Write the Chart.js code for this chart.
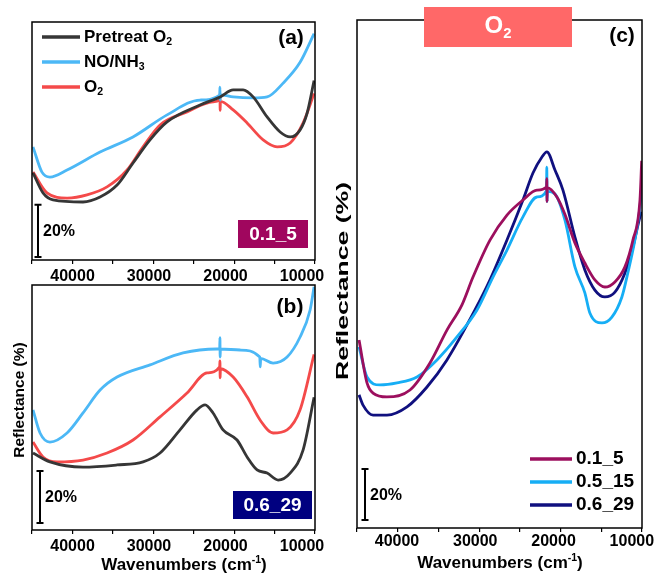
<!DOCTYPE html>
<html><head><meta charset="utf-8">
<script src="https://cdn.jsdelivr.net/npm/chart.js@4/dist/chart.umd.min.js"></script>
<style>
html,body{margin:0;padding:0;background:#fff;}
#wrap{position:relative;width:654px;height:579px;overflow:hidden;background:#fff;}
canvas{position:absolute;}
</style></head><body>
<div id="wrap">
<canvas id="ca" width="330" height="292" style="left:0;top:0;width:330px;height:292px"></canvas>
<canvas id="cb" width="330" height="299" style="left:0;top:280px;width:330px;height:299px"></canvas>
<canvas id="cc" width="324" height="579" style="left:330px;top:0;width:324px;height:579px"></canvas>
</div>
<script>
// ---- data: [wavenumber (cm-1), reflectance (%, offset scale)] ----
const xTicksMajor = [40000, 30000, 20000, 10000];

// Panel (a) 0.1_5
const a_pretreatO2 = [[45170,33.5],[43860,25.8],[42550,23.1],[38630,22.3],[36400,24.2],[34180,28.8],[32090,37.3],[29870,46.2],[27640,53.1],[23330,59.6],[20700,62.7],[19000,65.4],[17700,65.4],[16390,62.7],[14560,55],[12860,49.2],[11550,47.3],[10250,50],[9330,56.5],[8420,69]];
const a_NO_NH3 = [[45170,43.5],[44000,33.8],[42950,31.9],[40720,34.6],[36400,41.5],[32100,47.3],[27640,55.8],[23330,61.5],[20760,63.4],[20730,66.5],[20700,61.5],[20670,63.5],[19000,62.7],[16400,62.3],[14560,62.7],[12470,68],[10250,76],[8420,87]];
const a_O2 = [[45170,33.8],[43340,25.8],[40720,23.8],[38110,25],[35490,28.1],[32870,34.6],[30780,43.5],[28560,51.9],[25030,56.9],[21630,60.8],[20760,61.5],[20730,64],[20700,57.5],[20670,61],[19000,57.7],[17180,52.7],[15080,46.2],[13250,43.5],[11550,45],[9850,52.7],[8420,64]];

// Panel (b) 0.6_29
const b_pretreatO2 = [[45170,29.6],[42950,26.2],[38630,24.2],[34180,25],[30780,26.2],[28560,29.6],[25950,38.5],[23720,46.2],[22670,48.1],[21630,45],[20320,38.5],[18490,34.6],[17180,28.1],[15870,23.1],[14560,21.9],[13120,19.2],[11550,21.9],[9850,30.8],[8420,51]];
const b_NO_NH3 = [[45170,46.2],[44250,37.3],[42950,33.8],[40720,37.3],[38630,45],[36400,53.8],[34180,58.8],[29870,63.5],[25550,68.1],[21100,69.6],[20760,69.6],[20730,74],[20700,66.5],[20670,69.6],[18090,69.2],[15520,66.5],[15460,62.7],[15400,66],[13780,64.2],[11950,66.5],[10250,74.2],[8940,84.6],[8420,93.5]];
const b_O2 = [[45170,33.8],[43860,28.1],[42030,26.2],[38630,26.9],[35490,29.6],[32090,34.6],[28560,43.5],[25030,52.7],[22410,60.4],[20760,62.7],[20730,65],[20700,58.5],[20670,62],[19000,58.8],[17180,51.2],[15480,42.3],[13780,37.3],[11950,38.5],[10250,46.2],[8420,67.5]];

// Panel (c) O2 treated samples
const c_01_5 = [[44850,73.7],[43830,56.9],[43060,52.9],[41280,51.4],[38340,54.1],[35790,64.7],[33620,77.6],[31700,87.5],[30290,98.4],[28120,112.9],[25950,122.7],[23910,128.6],[22120,132.5],[20900,133.7],[20860,137],[20830,128],[20800,133.5],[19570,129.8],[18550,123],[17270,111.8],[16000,103.9],[14720,97.3],[13440,94.5],[12160,96.5],[10880,102.4],[9860,112.9],[8960,128.6],[8740,144]];
const c_05_15 = [[44850,71],[43830,59.2],[42170,56.1],[40000,56.9],[37450,59.2],[34890,65.9],[32340,74.9],[29780,85.5],[27740,98.4],[25950,109],[23910,122],[22120,129.8],[20900,132.3],[20860,141.5],[20830,128],[20800,132],[19820,131],[18550,120.8],[17270,102.4],[16000,92.2],[15360,84.3],[13820,80.4],[12550,82.7],[11270,90.6],[10510,100],[9610,112.9],[8960,125.9],[8740,133]];
const c_06_29 = [[44850,52.2],[44340,48.2],[43060,44.3],[41280,44.3],[38720,47.5],[36170,55.3],[33620,65.9],[30040,85.5],[28120,97.3],[25950,112.9],[23910,128.6],[22630,139.2],[21480,145.5],[20850,147.5],[19820,140.4],[18800,132.5],[17270,114.1],[16000,101.2],[14720,93.3],[13440,90.6],[12160,92.5],[10880,100],[9860,110.2],[8960,122],[8740,124]];

const labelsAB = ['Pretreat O2', 'NO/NH3', 'O2'];
const labelsC = ['0.1_5', '0.5_15', '0.6_29'];
const scaleBarSize = 20;

// ---- styling ----
const FONT = '"Liberation Sans", Arial, Helvetica, sans-serif';
const f = (s) => 'bold ' + s + 'px ' + FONT;
const colAB = ['#363636', '#4cb8f6', '#f44a4a'];
const colC = ['#9c0f5e', '#16aef5', '#10107f'];

const toPts = arr => arr.map(p => ({x: p[0], y: p[1]}));

function rich(ctx, parts, x, y, size, color, align) {
  ctx.fillStyle = color; ctx.textBaseline = 'middle'; ctx.textAlign = 'left';
  let w = 0;
  parts.forEach(p => { ctx.font = f(p[1] ? size * 0.62 : size); w += ctx.measureText(p[0]).width; });
  let cx = align === 'center' ? x - w / 2 : x;
  parts.forEach(p => {
    const s = p[1] ? size * 0.62 : size;
    ctx.font = f(s);
    const dy = p[1] === 'sub' ? size * 0.32 : (p[1] === 'sup' ? -size * 0.3 : 0);
    ctx.fillText(p[0], cx, y + dy);
    cx += ctx.measureText(p[0]).width;
  });
}

function frame(ctx, ca) {
  ctx.save(); ctx.strokeStyle = '#000'; ctx.lineWidth = 1.5;
  ctx.strokeRect(ca.left, ca.top, ca.right - ca.left, ca.bottom - ca.top);
  ctx.restore();
}

function tickLabels(chart, dy) {
  const ctx = chart.ctx, xs = chart.scales.x;
  ctx.save(); ctx.font = f(16); ctx.fillStyle = '#000'; ctx.textAlign = 'center'; ctx.textBaseline = 'middle';
  xTicksMajor.forEach(v => ctx.fillText(String(v), xs.getPixelForValue(v), chart.chartArea.bottom + dy));
  ctx.restore();
}

function scaleBar(chart, dx, from) {
  const ctx = chart.ctx, ys = chart.scales.y;
  const x = chart.chartArea.left + dx;
  const y0 = ys.getPixelForValue(from), y1 = ys.getPixelForValue(from + scaleBarSize);
  ctx.save(); ctx.strokeStyle = '#000'; ctx.lineWidth = 2;
  ctx.beginPath();
  ctx.moveTo(x, y0); ctx.lineTo(x, y1);
  ctx.moveTo(x - 3.5, y0); ctx.lineTo(x + 3.5, y0);
  ctx.moveTo(x - 3.5, y1); ctx.lineTo(x + 3.5, y1);
  ctx.stroke();
  rich(ctx, [['20%']], x + 5, (y0 + y1) / 2 + 1, 16, '#000', 'left');
  ctx.restore();
}

function legendRow(ctx, x1, x2, y, color, parts, size) {
  ctx.save(); ctx.strokeStyle = color; ctx.lineWidth = 3.5; ctx.lineCap = 'butt';
  ctx.beginPath(); ctx.moveTo(x1, y); ctx.lineTo(x2, y); ctx.stroke();
  rich(ctx, parts, x2 + 4, y, size, '#000', 'left');
  ctx.restore();
}

function badge(ctx, x1, y1, x2, y2, color, text) {
  ctx.save(); ctx.fillStyle = color; ctx.fillRect(x1, y1, x2 - x1, y2 - y1);
  ctx.fillStyle = '#fff'; ctx.font = f(19); ctx.textAlign = 'center'; ctx.textBaseline = 'middle';
  ctx.fillText(text, (x1 + x2) / 2, (y1 + y2) / 2 + 1);
  ctx.restore();
}

function xTitle(ctx, cx, cy) {
  rich(ctx, [['Wavenumbers (cm'], ['-1', 'sup'], [')']], cx, cy, 17, '#000', 'center');
}

function yTitle(ctx, cx, cy, size, len) {
  ctx.save(); ctx.translate(cx, cy); ctx.rotate(-Math.PI / 2);
  ctx.font = f(size);
  const w = ctx.measureText('Reflectance (%)').width;
  if (len) ctx.scale(len / w, 1);
  ctx.fillStyle = '#000'; ctx.textAlign = 'center'; ctx.textBaseline = 'middle';
  ctx.fillText('Reflectance (%)', 0, 0);
  ctx.restore();
}

function makeChart(id, cfg) {
  const datasets = cfg.series.map((s, i) => ({
    label: s.label, data: toPts(s.data), borderColor: s.color, backgroundColor: s.color,
    borderWidth: 2.8, pointRadius: 0, fill: false, cubicInterpolationMode: 'monotone'
  }));
  return new Chart(document.getElementById(id), {
    type: 'line',
    data: { datasets },
    options: {
      responsive: false, animation: false, devicePixelRatio: 1,
      layout: { padding: cfg.pad },
      plugins: { legend: { display: false }, tooltip: { enabled: false } },
      scales: {
        x: {
          type: 'linear', reverse: true, min: cfg.xmin, max: cfg.xmax,
          border: { display: false },
          grid: { drawOnChartArea: false, drawTicks: true, tickLength: 4, color: '#000', lineWidth: 1.2 },
          ticks: { display: false, stepSize: 5000, includeBounds: false, autoSkip: false, maxRotation: 0, minRotation: 0 },
          afterFit: s => { s.height = cfg.axisH; }
        },
        y: { display: false, min: 0, max: cfg.ymax }
      }
    },
    plugins: [{ id: 'extras', afterDraw: chart => { frame(chart.ctx, chart.chartArea); tickLabels(chart, cfg.tickDy); cfg.extras(chart); } }]
  });
}

// Panel (a)
makeChart('ca', {
  pad: { left: 32, top: 22, right: 15, bottom: 2 }, axisH: 30, tickDy: 17,
  xmin: 8300, xmax: 45300, ymax: 91.5,
  series: [
    { label: labelsAB[0], data: a_pretreatO2, color: colAB[0] },
    { label: labelsAB[1], data: a_NO_NH3, color: colAB[1] },
    { label: labelsAB[2], data: a_O2, color: colAB[2] }
  ],
  extras: chart => {
    const ctx = chart.ctx;
    legendRow(ctx, 42, 80, 37, colAB[0], [['Pretreat O'], ['2', 'sub']], 17);
    legendRow(ctx, 42, 80, 62, colAB[1], [['NO/NH'], ['3', 'sub']], 17);
    legendRow(ctx, 42, 80, 87, colAB[2], [['O'], ['2', 'sub']], 17);
    rich(ctx, [['(a)']], 291, 38, 21, '#000', 'center');
    scaleBar(chart, 6, 1.2);
    badge(ctx, 238, 220, 308, 248, '#a0065e', labelsC[0]);
  }
});

// Panel (b)
makeChart('cb', {
  pad: { left: 32, top: 5, right: 15, bottom: 4 }, axisH: 45, tickDy: 17,
  xmin: 8300, xmax: 45300, ymax: 94.2,
  series: [
    { label: labelsAB[0], data: b_pretreatO2, color: colAB[0] },
    { label: labelsAB[1], data: b_NO_NH3, color: colAB[1] },
    { label: labelsAB[2], data: b_O2, color: colAB[2] }
  ],
  extras: chart => {
    const ctx = chart.ctx; const oy = 280;
    rich(ctx, [['(b)']], 290, 307 - oy, 21, '#000', 'center');
    scaleBar(chart, 8, 2.7);
    badge(ctx, 233, 491 - oy, 312, 519 - oy, '#000080', labelsC[2]);
    xTitle(ctx, 184, 565 - oy);
    yTitle(ctx, 20, 400 - oy, 15.5, 0);
  }
});

// Panel (c)
makeChart('cc', {
  pad: { left: 27, top: 20, right: 12, bottom: 4 }, axisH: 47, tickDy: 14,
  xmin: 8700, xmax: 45110, ymax: 199.2,
  series: [
    { label: labelsC[0], data: c_01_5, color: colC[0] },
    { label: labelsC[1], data: c_05_15, color: colC[1] },
    { label: labelsC[2], data: c_06_29, color: colC[2] }
  ],
  extras: chart => {
    const ctx = chart.ctx; const ox = 330;
    ctx.save(); ctx.fillStyle = '#ff6868'; ctx.fillRect(424 - ox, 7, 148, 40); ctx.restore();
    rich(ctx, [['O'], ['2', 'sub']], 498 - ox, 26, 24, '#fff', 'center');
    rich(ctx, [['(c)']], 622 - ox, 36, 21, '#000', 'center');
    legendRow(ctx, 530 - ox, 572 - ox, 459, colC[0], [[labelsC[0]]], 19);
    legendRow(ctx, 530 - ox, 572 - ox, 482, colC[1], [[labelsC[1]]], 19);
    legendRow(ctx, 530 - ox, 572 - ox, 505, colC[2], [[labelsC[2]]], 19);
    scaleBar(chart, 8, 3.1);
    xTitle(ctx, 500 - ox, 563);
    yTitle(ctx, 343 - ox, 281, 17, 198);
  }
});
</script>
</body></html>
